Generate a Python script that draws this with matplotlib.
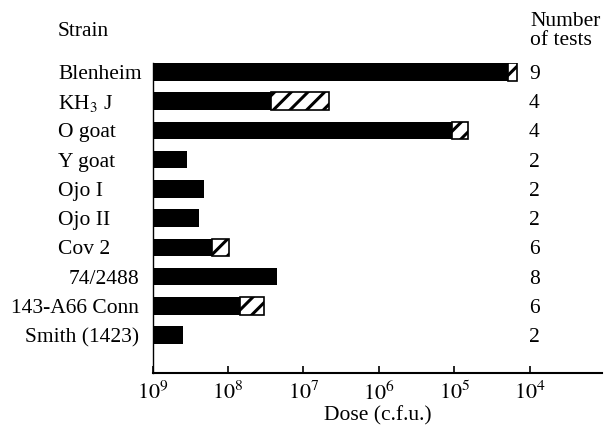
import matplotlib.pyplot as plt
from matplotlib.transforms import blended_transform_factory

# strains top to bottom
strains = ['Blenheim', 'KH$_3$ J', 'O goat', 'Y goat', 'Ojo I', 'Ojo II',
           'Cov 2', '74/2488', '143-A66 Conn', 'Smith (1423)']
# log10 dose where the black part of each bar ends
black_end = [4.29, 7.43, 5.03, 8.54, 8.32, 8.38, 8.21, 7.35, 7.84, 8.60]
# log10 dose where the hatched part ends (None = no hatched part)
hatch_end = [4.17, 6.66, 4.82, None, None, None, 7.99, None, 7.52, None]
n_tests = [9, 4, 4, 2, 2, 2, 6, 8, 6, 2]
tick_exp = [9, 8, 7, 6, 5, 4]

plt.rcParams['font.family'] = ['Liberation Serif', 'DejaVu Serif']
plt.rcParams['mathtext.fontset'] = 'stix'
plt.rcParams['hatch.linewidth'] = 2.2

fig = plt.figure(figsize=(6.04, 4.28), dpi=100)
ax = fig.add_axes([0.2525, 0.1285, 0.7445, 0.7245])

start = 1e9
for i in range(len(strains)):
    b = 10 ** black_end[i]
    ax.barh(i, b - start, left=start, height=0.6, color='black')
    if hatch_end[i] is not None:
        h = 10 ** hatch_end[i]
        ax.barh(i, h - b, left=b, height=0.6, facecolor='white',
                edgecolor='black', hatch='//', linewidth=1.2)

ax.set_xscale('log')
ax.set_xlim(1e9, 10 ** 3.04)
ax.set_ylim(10.3, -0.31)

ax.set_xticks([10.0 ** e for e in tick_exp])
ax.set_xticklabels([f'$10^{{{e}}}$' for e in tick_exp], fontsize=16)
ax.minorticks_off()
ax.tick_params(axis='x', direction='in', length=5, width=1.2, pad=6)
ax.set_yticks([])

ax.spines['top'].set_visible(False)
ax.spines['right'].set_visible(False)
ax.spines['bottom'].set_linewidth(1.5)
ax.spines['left'].set_linewidth(1.0)

ax.set_xlabel('Dose (c.f.u.)', fontsize=15.5, labelpad=1)

# strain names: word labels flush left, numeric ones flush right
lab_tr = blended_transform_factory(fig.transFigure, ax.transData)
for i, s in enumerate(strains):
    if s[0].isdigit() or s.startswith('Smith'):
        ax.text(139 / 604, i, s, transform=lab_tr, fontsize=15.5,
                ha='right', va='center_baseline')
    else:
        ax.text(58 / 604, i, s, transform=lab_tr, fontsize=15.5,
                ha='left', va='center_baseline')

tr = blended_transform_factory(ax.transAxes, ax.transData)
for i, n in enumerate(n_tests):
    ax.text(0.837, i, str(n), transform=tr, fontsize=15.5,
            ha='left', va='center_baseline')

fig.text(58 / 604, 1 - 31 / 428, 'Strain', fontsize=15.5, ha='left', va='center')
fig.text(530 / 604, 1 - 31 / 428, 'Number\nof tests', fontsize=15.5,
         ha='left', va='center', linespacing=1.0)

fig.savefig('out.png', dpi=100)
